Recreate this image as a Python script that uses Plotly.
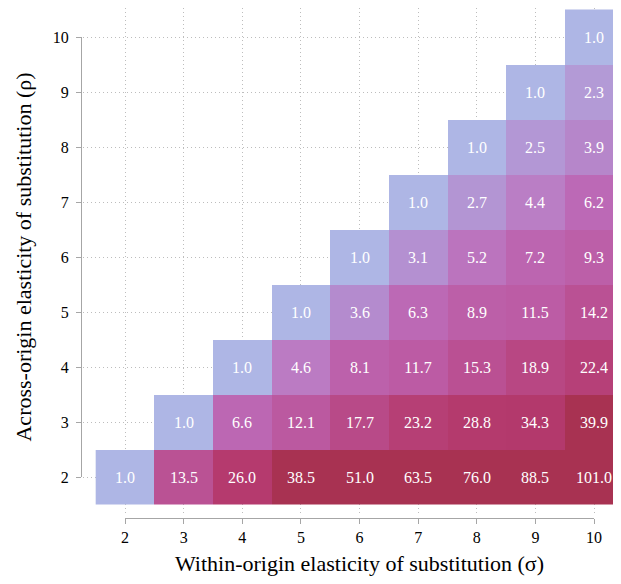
import math
import plotly.graph_objects as go

# ---- data ----
SIGMA = [2, 3, 4, 5, 6, 7, 8, 9, 10]   # within-origin elasticity (x)
RHO = [2, 3, 4, 5, 6, 7, 8, 9, 10]     # across-origin elasticity (y)

# values for each rho row, starting at sigma == rho
rho2 = [1.0, 13.5, 26.0, 38.5, 51.0, 63.5, 76.0, 88.5, 101.0]
rho3 = [1.0, 6.6, 12.1, 17.7, 23.2, 28.8, 34.3, 39.9]
rho4 = [1.0, 4.6, 8.1, 11.7, 15.3, 18.9, 22.4]
rho5 = [1.0, 3.6, 6.3, 8.9, 11.5, 14.2]
rho6 = [1.0, 3.1, 5.2, 7.2, 9.3]
rho7 = [1.0, 2.7, 4.4, 6.2]
rho8 = [1.0, 2.5, 3.9]
rho9 = [1.0, 2.3]
rho10 = [1.0]
ROWS = [rho2, rho3, rho4, rho5, rho6, rho7, rho8, rho9, rho10]

X_TITLE = "Within-origin elasticity of substitution (σ)"
Y_TITLE = "Across-origin elasticity of substitution (ρ)"

# ---- colour scale (value -> colour), applied on log10 of value ----
STOP_VALUES = [1.0, 2.3, 3.6, 4.6, 6.2, 8.5, 11.6, 13.5, 15.3, 20.0, 26.0, 34.3, 37.0, 101.0]
STOP_COLORS = ["#AEB6E5", "#B39AD6", "#B48BCE", "#BB7BC3", "#BC69B6", "#BC60A9",
               "#BC5CA5", "#BA5294", "#BA5093", "#B7457F", "#B53A6E", "#B3396C",
               "#A83252", "#A83252"]

zmax = math.log10(max(max(r) for r in ROWS))
colorscale = [[math.log10(v) / zmax, c] for v, c in zip(STOP_VALUES, STOP_COLORS)]
colorscale[-1][0] = 1.0

z, text = [], []
for i, rho in enumerate(RHO):
    row = ROWS[i]
    zr, tr = [], []
    for s in SIGMA:
        if s >= rho:
            v = row[s - rho]
            zr.append(math.log10(v))
            tr.append(f"{v:.1f}")
        else:
            zr.append(None)
            tr.append("")
    z.append(zr)
    text.append(tr)

FONT = "Liberation Serif"
OFF = 8                      # page body margin in the browser
W, H = 621 - 2 * OFF, 584 - 2 * OFF
def fx(p):
    return p - OFF
def fy(p):
    return p - OFF

AXIS_X_PX, AXIS_Y_PX = 81, 518       # positions of the range-frame axis lines
L, R, T, B = fx(AXIS_X_PX), 0, 0, H - fy(AXIS_Y_PX)
PW, PH = W - L - R, H - T - B

x2_px, x10_px = fx(125), fx(594)
y2_px, y10_px = fy(477), fy(37)
px_per_x = (x10_px - x2_px) / 8
px_per_y = (y2_px - y10_px) / 8
panel_left, panel_right = fx(83), W
panel_top, panel_bottom = 0, fy(513)

fig = go.Figure()
fig.add_trace(go.Heatmap(
    x=SIGMA, y=RHO, z=z, text=text, texttemplate="%{text}",
    textfont=dict(family=FONT, size=16, color="white"),
    colorscale=colorscale, zmin=0, zmax=zmax, showscale=False,
    hoverongaps=False, xaxis="x", yaxis="y",
))
# invisible trace hosting the range-frame axes
fig.add_trace(go.Scatter(
    x=[SIGMA[0], SIGMA[-1]], y=[RHO[0], RHO[-1]], mode="markers",
    marker=dict(opacity=0), hoverinfo="skip", showlegend=False,
    xaxis="x2", yaxis="y2",
))

grid = dict(showgrid=True, gridcolor="#bdbdbd", griddash="1px,3px", gridwidth=1,
            zeroline=False, showline=False, showticklabels=False, ticks="",
            tick0=2, dtick=1, fixedrange=True, automargin=False)
frame = dict(anchor="free", position=0, showgrid=False, zeroline=False,
             showline=True, linecolor="#a6a6a6", linewidth=1,
             ticks="outside", ticklen=5, tickcolor="#a6a6a6", tickwidth=1,
             tickfont=dict(family=FONT, size=16, color="black"),
             automargin=False, fixedrange=True)
title_font = dict(family=FONT, size=22, color="black")

fig.update_layout(
    width=W, height=H, margin=dict(l=L, r=R, t=T, b=B),
    paper_bgcolor="white", plot_bgcolor="rgba(0,0,0,0)",
    font=dict(family=FONT, size=16, color="black"),
    showlegend=False,
    xaxis=dict(
        domain=[(panel_left - L) / PW, (panel_right - L) / PW],
        range=[2 - (x2_px - panel_left) / px_per_x, 2 + (panel_right - x2_px) / px_per_x],
        anchor="y", **grid),
    yaxis=dict(
        domain=[(H - B - panel_bottom) / PH, (H - B - panel_top) / PH],
        range=[2 - (panel_bottom - y2_px) / px_per_y, 2 + (y2_px - panel_top) / px_per_y],
        anchor="x", **grid),
    xaxis2=dict(
        domain=[(x2_px - L) / PW, (x10_px - L) / PW], range=[2, 10],
        tickmode="array", tickvals=SIGMA, ticktext=[str(s) for s in SIGMA],
        title=dict(text=X_TITLE, font=title_font, standoff=11),
        **frame),
    yaxis2=dict(
        domain=[(H - B - y2_px) / PH, (H - B - y10_px) / PH], range=[2, 10],
        tickmode="array", tickvals=RHO, ticktext=[str(r) for r in RHO],
        ticklabelstandoff=4,
        title=dict(text=Y_TITLE, font=title_font, standoff=14),
        **frame),
)

fig.write_html("out.html")
